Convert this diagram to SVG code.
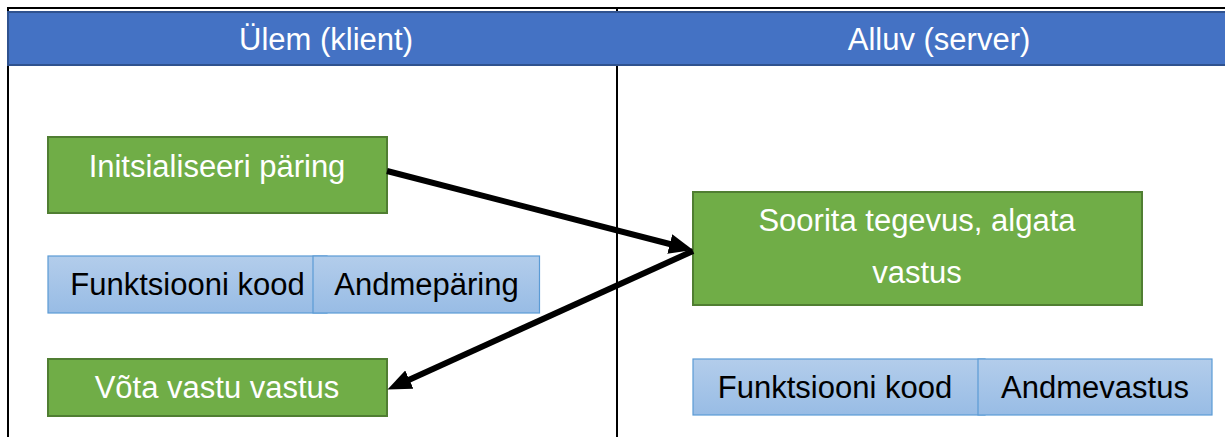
<svg xmlns="http://www.w3.org/2000/svg" width="1225" height="437" viewBox="0 0 1225 437">
  <style>
    .grid { stroke: #000; stroke-width: 2; fill: none; }
    .hdr { fill: #4472C4; stroke: #2F528F; stroke-width: 2; }
    .hdrtxt { fill: #fff; font-family: "Liberation Sans", Arial, sans-serif; font-size: 31px; text-anchor: middle; }
    .step { fill: #70AD47; stroke: #507E32; stroke-width: 2; }
    .steptxt { fill: #fff; font-family: "Liberation Sans", Arial, sans-serif; font-size: 31px; text-anchor: middle; }
    .field { fill: url(#fieldGrad); stroke: #5B9BD5; stroke-width: 1.2; }
    .fieldtxt { fill: #000; font-family: "Liberation Sans", Arial, sans-serif; font-size: 31px; text-anchor: middle; }
    .conn { stroke: #000; stroke-width: 6; fill: none; }
  </style>
  <defs>
    <linearGradient id="fieldGrad" x1="0" y1="0" x2="0" y2="1">
      <stop offset="0" stop-color="#B3CDEB"/>
      <stop offset="1" stop-color="#98BCE5"/>
    </linearGradient>
    <marker id="arrow" markerUnits="userSpaceOnUse" markerWidth="24" markerHeight="20" refX="5" refY="10" orient="auto">
      <path d="M0,0 L24,10 L0,20 z" fill="#000"/>
    </marker>
  </defs>

  <rect width="1225" height="437" fill="#fff"/>

  <g id="table">
    <line class="grid" x1="7" y1="8" x2="1225" y2="8"/>
    <line class="grid" x1="8" y1="7" x2="8" y2="437"/>
    <line class="grid" x1="617" y1="7" x2="617" y2="437"/>
  </g>

  <g id="header">
    <rect class="hdr" x="8" y="12" width="1220" height="53"/>
    <text class="hdrtxt" x="326" y="50">Ülem (klient)</text>
    <text class="hdrtxt" x="939" y="50">Alluv (server)</text>
  </g>

  <g id="init-request">
    <rect class="step" x="48" y="137" width="339" height="76"/>
    <text class="steptxt" x="217" y="177">Initsialiseeri päring</text>
  </g>

  <g id="request-frame">
    <rect class="field" x="48" y="256" width="279" height="57"/>
    <text class="fieldtxt" x="187.5" y="294.5">Funktsiooni kood</text>
    <rect class="field" x="313" y="256" width="226.5" height="57"/>
    <text class="fieldtxt" x="426.5" y="294.5">Andmepäring</text>
  </g>

  <g id="receive-response">
    <rect class="step" x="48" y="359" width="339" height="57"/>
    <text class="steptxt" x="217" y="398">Võta vastu vastus</text>
  </g>

  <g id="perform-action">
    <rect class="step" x="693" y="192" width="449" height="113"/>
    <text class="steptxt" x="917" y="231">Soorita tegevus, algata</text>
    <text class="steptxt" x="917" y="283">vastus</text>
  </g>

  <g id="response-frame">
    <rect class="field" x="693" y="359" width="292" height="56"/>
    <text class="fieldtxt" x="835" y="397.5">Funktsiooni kood</text>
    <rect class="field" x="978" y="359" width="234" height="56"/>
    <text class="fieldtxt" x="1095" y="397.5">Andmevastus</text>
  </g>

  <g id="connectors">
    <line class="conn" x1="387" y1="171" x2="674.6" y2="245.25" marker-end="url(#arrow)"/>
    <line class="conn" x1="693" y1="251" x2="404.8" y2="381.65" marker-end="url(#arrow)"/>
  </g>
</svg>
